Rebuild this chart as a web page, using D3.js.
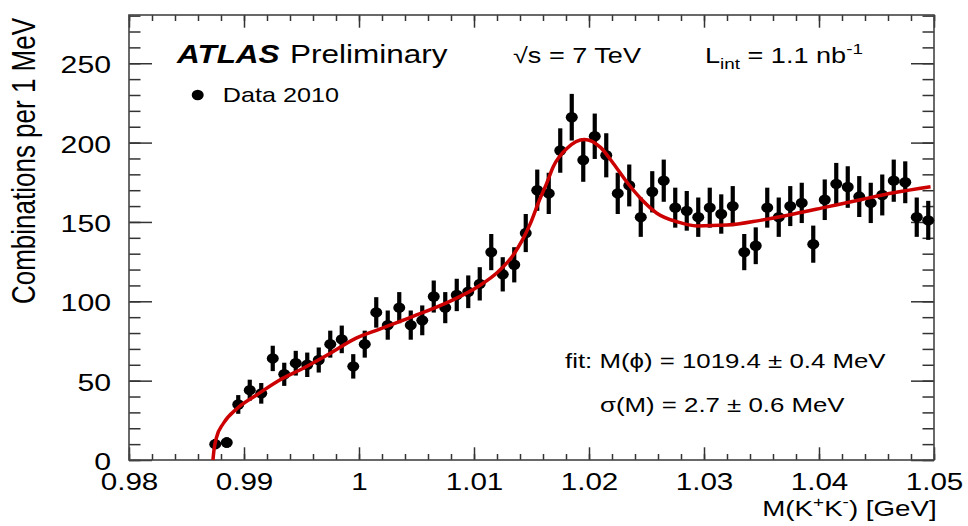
<!DOCTYPE html>
<html>
<head>
<meta charset="utf-8">
<script src="https://cdn.jsdelivr.net/npm/d3@7"></script>
<style>
body { margin: 0; background: #fff; }
text { font-family: "Liberation Sans", Arial, sans-serif; fill: #000; }
</style>
</head>
<body>
<div id="chart"></div>
<script>
// bin centres in GeV (1 MeV bins)
const massBins = [0.9875,0.9885,0.9895,0.9905,0.9915,0.9925,0.9935,0.9945,0.9955,0.9965,0.9975,0.9985,0.9995,
    1.0005,1.0015,1.0025,1.0035,1.0045,1.0055,1.0065,1.0075,1.0085,1.0095,
    1.0105,1.0115,1.0125,1.0135,1.0145,1.0155,1.0165,1.0175,1.0185,1.0195,
    1.0205,1.0215,1.0225,1.0235,1.0245,1.0255,1.0265,1.0275,1.0285,1.0295,
    1.0305,1.0315,1.0325,1.0335,1.0345,1.0355,1.0365,1.0375,1.0385,1.0395,
    1.0405,1.0415,1.0425,1.0435,1.0445,1.0455,1.0465,1.0475,1.0485,1.0495];

const counts = [10,11,35,44,42,64,54,61,60,63,73,76,59,
    73,93,85,96,85,88,103,96,104,106,
    111,131,117,123,143,170,168,195,216,189,
    204,192,168,173,153,169,176,159,157,153,
    159,155,160,131,135,159,153,160,162,136,
    164,174,172,166,162,167,176,175,153,151];

const countErrors = [3.2,3.3,5.9,6.6,6.5,8.0,7.3,7.8,7.7,7.9,8.5,8.7,7.7,
    8.5,9.6,9.2,9.8,9.2,9.4,10.1,9.8,10.2,10.3,
    10.5,11.4,10.8,11.1,12.0,13.0,13.0,14.0,14.7,13.7,
    14.3,13.9,13.0,13.2,12.4,13.0,13.3,12.6,12.5,12.4,
    12.6,12.4,12.6,11.4,11.6,12.6,12.4,12.6,12.7,11.7,
    12.8,13.2,13.1,12.9,12.7,12.9,13.3,13.2,12.4,12.3];

// fit curve
const fitMass = [0.9873,0.98739,0.9876,0.9882,0.9894,0.9911,0.9930,0.9952,0.9972,0.9998,1.0018,1.0047,1.0076,
    1.0105,1.0120,1.0134,1.0149,1.0157,1.0163,1.0169,1.0181,1.0196,1.0210,1.0221,1.0233,1.0246,
    1.0259,1.0277,1.0294,1.0320,1.0349,1.0378,1.0407,1.0436,1.0465,1.0497];
const fitValue = [0,6.3,14,23,32.5,41,50,58,66,77,82.5,90.5,99,
    110,118,129,149,164,174,185,196.5,202,197,187,175,164,
    155.5,150,147.5,148,151,155,159.5,164,168.4,172.2];

const xMajor = [0.98,0.99,1.00,1.01,1.02,1.03,1.04,1.05];
const xTickLabels = ["0.98","0.99","1","1.01","1.02","1.03","1.04","1.05"];
const yMajor = [0,50,100,150,200,250];
const yTickLabels = ["0","50","100","150","200","250"];

const W = 968, H = 526;
const margin = { top: 15, right: 34, bottom: 66, left: 129 };
const SX = 1.26; // the original picture is stretched horizontally

const svg = d3.select("#chart").append("svg")
    .attr("width", W)
    .attr("height", H);

const x = d3.scaleLinear().domain([0.98, 1.05]).range([margin.left, W - margin.right]);
const y = d3.scaleLinear().domain([0, 280.4]).range([H - margin.bottom, margin.top]);

const x0 = x.range()[0], x1 = x.range()[1];
const y0 = y.range()[0], y1 = y.range()[1];

const xMinor = x.ticks(35);
const yMinor = y.ticks(28);

function styleTicks(g) {
    g.select(".domain").remove();
    g.selectAll(".tick line").attr("stroke", "#333").attr("stroke-width", 1.5);
}

// bottom
svg.append("g").attr("transform", "translate(0," + y0 + ")")
    .call(d3.axisBottom(x).tickValues(xMinor).tickSize(-6).tickFormat(""))
    .call(styleTicks);
svg.append("g").attr("transform", "translate(0," + y0 + ")")
    .call(d3.axisBottom(x).tickValues(xMajor).tickSize(-12.7).tickFormat((d, i) => xTickLabels[i]))
    .call(styleTicks)
    .call(g => g.selectAll("text")
        .attr("y", 30.2).attr("dy", null)
        .attr("font-size", 23.5).attr("font-family", null)
        .attr("fill", "#000")
        .attr("transform", "scale(" + SX + ",1)"));
// top
svg.append("g").attr("transform", "translate(0," + y1 + ")")
    .call(d3.axisTop(x).tickValues(xMinor).tickSize(-6).tickFormat(""))
    .call(styleTicks);
svg.append("g").attr("transform", "translate(0," + y1 + ")")
    .call(d3.axisTop(x).tickValues(xMajor).tickSize(-12.7).tickFormat(""))
    .call(styleTicks);
// left
svg.append("g").attr("transform", "translate(" + x0 + ",0)")
    .call(d3.axisLeft(y).tickValues(yMinor).tickSize(-11.5).tickFormat(""))
    .call(styleTicks);
svg.append("g").attr("transform", "translate(" + x0 + ",0)")
    .call(d3.axisLeft(y).tickValues(yMajor).tickSize(-23).tickFormat((d, i) => yTickLabels[i]))
    .call(styleTicks)
    .call(g => g.selectAll("text")
        .attr("x", -18 / SX).attr("y", 9.6).attr("dy", null)
        .attr("font-size", 24).attr("font-family", null)
        .attr("fill", "#000")
        .attr("transform", "scale(" + SX + ",1)"));
// right
svg.append("g").attr("transform", "translate(" + x1 + ",0)")
    .call(d3.axisRight(y).tickValues(yMinor).tickSize(-11.5).tickFormat(""))
    .call(styleTicks);
svg.append("g").attr("transform", "translate(" + x1 + ",0)")
    .call(d3.axisRight(y).tickValues(yMajor).tickSize(-23).tickFormat(""))
    .call(styleTicks);

// frame
svg.append("rect")
    .attr("x", x0).attr("y", y1)
    .attr("width", x1 - x0).attr("height", y0 - y1)
    .attr("fill", "none")
    .attr("stroke", "#444")
    .attr("stroke-width", 1.6);

// data points
const data = massBins.map((m, i) => ({ m: m, n: counts[i], e: countErrors[i] }));

const pts = svg.append("g").classed("data", true);
pts.selectAll(".err")
    .data(data)
    .enter().append("line")
    .classed("err", true)
    .attr("x1", d => x(d.m)).attr("x2", d => x(d.m))
    .attr("y1", d => y(d.n - d.e)).attr("y2", d => y(d.n + d.e))
    .attr("stroke", "#000")
    .attr("stroke-width", 4.2);
pts.selectAll(".pt")
    .data(data)
    .enter().append("ellipse")
    .classed("pt", true)
    .attr("cx", d => x(d.m)).attr("cy", d => y(d.n))
    .attr("rx", 6).attr("ry", 5.2)
    .attr("fill", "#000");

// fit
const fit = fitMass.map((m, i) => [m, fitValue[i]]);
svg.append("path")
    .datum(fit)
    .attr("fill", "none")
    .attr("stroke", "#cc0000")
    .attr("stroke-width", 3.5)
    .attr("d", d3.line().x(d => x(d[0])).y(d => y(d[1])).curve(d3.curveMonotoneX));

// labels
function label(px, py, size) {
    return svg.append("text")
        .attr("transform", "translate(" + px + "," + py + ") scale(" + SX + ",1)")
        .attr("font-size", size);
}

label(177, 63.3, 25).attr("font-weight", "bold").attr("font-style", "italic").text("ATLAS");
label(290, 63.3, 25).text("Preliminary");

svg.append("ellipse").attr("cx", 197.7).attr("cy", 95).attr("rx", 6).attr("ry", 5.2).attr("fill", "#000");
label(222.7, 102.3, 20).text("Data 2010");

label(513, 62.7, 21.5).text("\u221As = 7 TeV");

let lint = label(705, 62.7, 21.5);
lint.append("tspan").text("L");
lint.append("tspan").attr("font-size", 15).attr("dy", 6).text("int");
lint.append("tspan").attr("dy", -6).text(" = 1.1 nb");
lint.append("tspan").attr("font-size", 15).attr("dy", -9).text("-1");

label(565, 368.3, 20.5).text("fit: M(\u03D5) = 1019.4 \u00B1 0.4 MeV");
label(600, 411.7, 20.5).text("\u03C3(M) = 2.7 \u00B1 0.6 MeV");

let xt = label(936.7, 516, 22).attr("text-anchor", "end");
xt.append("tspan").text("M(K");
xt.append("tspan").attr("font-size", 15).attr("dy", -9).text("+");
xt.append("tspan").attr("dy", 9).text("K");
xt.append("tspan").attr("font-size", 15).attr("dy", -9).text("-");
xt.append("tspan").attr("dy", 9).text(") [GeV]");

svg.append("text")
    .attr("transform", "translate(35,161) rotate(-90) scale(1," + SX + ")")
    .attr("text-anchor", "middle")
    .attr("font-size", 26)
    .text("Combinations per 1 MeV");
</script>
</body>
</html>
